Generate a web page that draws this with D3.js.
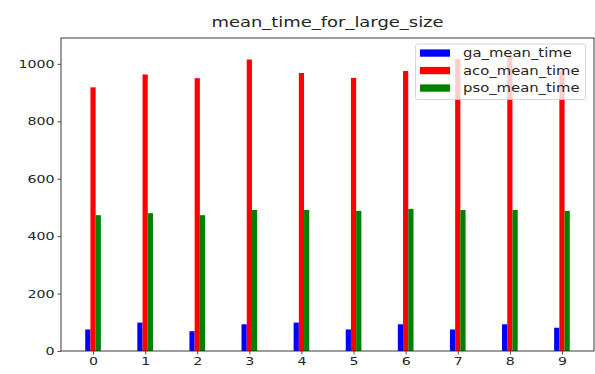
<!DOCTYPE html>
<html><head><meta charset="utf-8">
<script src="https://cdn.jsdelivr.net/npm/d3@7"></script>
<style>body{margin:0;background:#fff}svg{display:block}text{font-family:"DejaVu Sans",sans-serif;fill:#262626}</style>
</head><body><svg id="c" width="595" height="374"></svg>
<script>
const categories = ["0","1","2","3","4","5","6","7","8","9"];
const gaMeanTime  = [75, 99, 69, 93, 99, 75, 93, 75, 93, 81];
const acoMeanTime = [918, 963, 950, 1015, 968, 951, 975, 1017, 1030, 975];
const psoMeanTime = [473, 480, 473, 491, 491, 488, 495, 491, 491, 488];
const seriesNames = ["ga_mean_time", "aco_mean_time", "pso_mean_time"];
const seriesColors = ["#0000ff", "#ff0000", "#008000"];
const yTicks = [0, 200, 400, 600, 800, 1000];
const title = "mean_time_for_large_size";

const SX = 1.3;
const svg = d3.select("#c");
const L = 61, R = 594, T = 38, B = 351;
const x = d3.scaleLinear().domain([-0.615, 9.615]).range([L, R]);
const y = d3.scaleLinear().domain([0, 1090]).range([B, T]);
const bw = 0.1;
const series = [gaMeanTime, acoMeanTime, psoMeanTime];
const offsets = [-0.1, 0, 0.1];

series.forEach((vals, s) => {
  svg.append("g").selectAll("rect").data(vals).join("rect")
    .attr("x", (d, i) => x(i + offsets[s] - bw / 2))
    .attr("width", (d, i) => x(i + offsets[s] + bw / 2) - x(i + offsets[s] - bw / 2))
    .attr("y", d => y(d))
    .attr("height", d => y(0) - y(d))
    .attr("fill", seriesColors[s]);
});

// axes
const xa = svg.append("g").attr("transform", `translate(0,${B})`)
  .call(d3.axisBottom(x).tickValues(categories.map((c, i) => i)).tickFormat((d, i) => categories[i]).tickSize(3.5).tickPadding(3));
xa.selectAll("text").attr("font-size", 10.9).attr("transform", `scale(${SX},1)`).attr("font-family", "DejaVu Sans").style("fill", "#262626");
const ya = svg.append("g").attr("transform", `translate(${L},0)`)
  .call(d3.axisLeft(y).tickValues(yTicks).tickFormat(d3.format("d")).tickSize(3.5).tickPadding(3));
ya.selectAll("text").attr("font-size", 10.9).attr("x", -6.5 / SX).attr("transform", `scale(${SX},1)`).attr("font-family", "DejaVu Sans").style("fill", "#262626");
svg.selectAll(".domain").remove();
svg.selectAll(".tick line").attr("stroke", "#262626").attr("stroke-width", 0.8);

svg.append("rect").attr("x", L).attr("y", T).attr("width", R - L).attr("height", B - T)
  .attr("fill", "none").attr("stroke", "#262626").attr("stroke-width", 0.9);

// title
svg.append("text").attr("transform", `translate(${(L + R) / 2},27) scale(${SX},1)`)
  .attr("text-anchor", "middle").attr("font-size", 13.8).text(title);

// legend
const lg = svg.append("g");
lg.append("rect").attr("x", 415.5).attr("y", 44).attr("width", 170).attr("height", 55.5)
  .attr("rx", 2.5).attr("fill", "#fff").attr("fill-opacity", 0.8).attr("stroke", "#cccccc").attr("stroke-width", 0.8);
const rows = [53, 70.5, 88];
seriesNames.forEach((n, i) => {
  lg.append("rect").attr("x", 420).attr("y", rows[i] - 3.6).attr("width", 30).attr("height", 7.3).attr("fill", seriesColors[i]);
  lg.append("text").attr("transform", `translate(463,${rows[i] + 4}) scale(${SX},1)`).attr("font-size", 11.4).text(n);
});
</script></body></html>
